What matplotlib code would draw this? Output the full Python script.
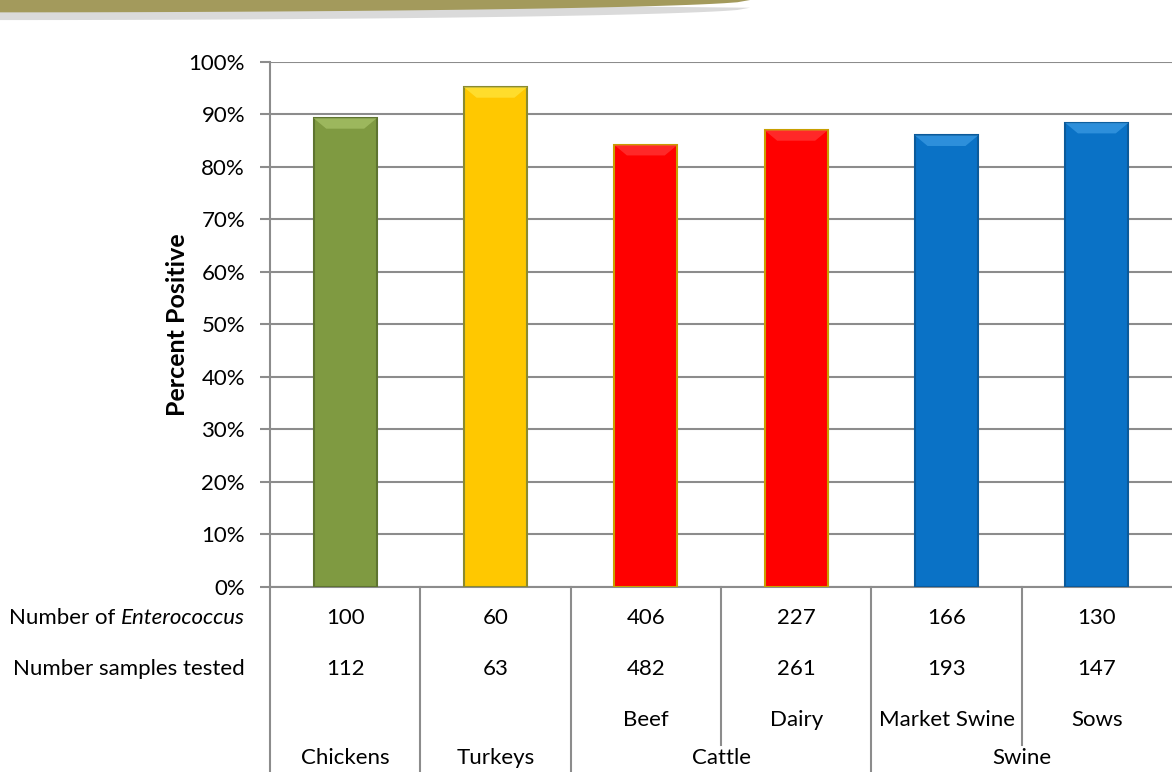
import numpy as np
import matplotlib
matplotlib.use('Agg')
import matplotlib.pyplot as plt
from matplotlib.patches import Polygon
from matplotlib.transforms import blended_transform_factory

plt.rcParams['font.family'] = ['Lato', 'DejaVu Sans']

# data
categories = ['Chickens', 'Turkeys', 'Beef', 'Dairy', 'Market Swine', 'Sows']
percent_positive = [89.3, 95.2, 84.2, 87.0, 86.0, 88.4]
n_enterococcus = [100, 60, 406, 227, 166, 130]
n_tested = [112, 63, 482, 261, 193, 147]
sub_labels = ['', '', 'Beef', 'Dairy', 'Market Swine', 'Sows']
groups = ['Chickens', 'Turkeys', 'Cattle', 'Swine']
group_spans = [(0, 0), (1, 1), (2, 3), (4, 5)]

face_colors = ['#7F9A41', '#FFC800', '#FF0000', '#FF0000', '#0A72C6', '#0A72C6']
edge_colors = ['#5E7430', '#8A8A30', '#C8A000', '#C8A000', '#0B5A9A', '#0B5A9A']
top_colors = ['#A9C46A', '#FFE640', '#FF3A3A', '#FF3A3A', '#3C9CE4', '#3C9CE4']

FS = 16

fig = plt.figure(figsize=(11.72, 7.72), dpi=100)
ax = fig.add_axes([0.2304, 0.2397, 0.7696, 0.6800])

# decorative banner on top
bx = np.linspace(0, 0.64, 60)
by = 1 - 0.016 * np.sqrt(np.clip(1 - (bx / 0.64) ** 2, 0, 1))
shadow = Polygon(np.column_stack([np.r_[bx, 0.0], np.r_[by - 0.010, 1.0]]),
                 closed=True, transform=fig.transFigure, facecolor='#DADADA',
                 edgecolor='none', zorder=0)
fig.patches.append(shadow)
banner = Polygon(np.column_stack([np.r_[bx, 0.0], np.r_[by, 1.0]]),
                 closed=True, transform=fig.transFigure, facecolor='#A39A5C',
                 edgecolor='none', zorder=1)
fig.patches.append(banner)

x = np.arange(len(categories))
width = 0.42
bars = ax.bar(x, percent_positive, width=width, color=face_colors,
              edgecolor=edge_colors, linewidth=1.5, zorder=3)

# bevel on the top of each bar
for b, tc in zip(bars, top_colors):
    x0, w, h = b.get_x(), b.get_width(), b.get_height()
    inset = w * 0.2
    dh = 2.0
    ax.add_patch(Polygon([[x0, h], [x0 + w, h], [x0 + w - inset, h - dh],
                          [x0 + inset, h - dh]], closed=True,
                         facecolor=tc, edgecolor='none', alpha=0.7, zorder=4))

ax.set_xlim(-0.5, len(categories) - 0.5)
ax.set_ylim(0, 100)
ax.set_yticks(np.arange(0, 101, 10))
ax.set_yticklabels([f'{v}%' for v in range(0, 101, 10)], fontsize=FS)
ax.set_xticks([])
ax.yaxis.grid(True, color='#8C8C8C', linewidth=1.5)
ax.set_axisbelow(True)
for s in ['top', 'right']:
    ax.spines[s].set_visible(False)
ax.spines['left'].set_color('#8C8C8C')
ax.spines['left'].set_linewidth(1.5)
ax.spines['bottom'].set_color('#8C8C8C')
ax.spines['bottom'].set_linewidth(1.5)
ax.tick_params(axis='y', length=7, width=1.5, color='#8C8C8C', pad=11)
ax.set_ylabel('Percent Positive', fontsize=18, fontweight='bold')
ax.yaxis.set_label_coords(-0.09, 0.5)

# data table under the axis
tr = blended_transform_factory(ax.transData, ax.transAxes)
row_y = [-0.059, -0.156, -0.253, -0.326]
for i in range(len(categories)):
    ax.text(x[i], row_y[0], str(n_enterococcus[i]), transform=tr, ha='center',
            va='center', fontsize=FS)
    ax.text(x[i], row_y[1], str(n_tested[i]), transform=tr, ha='center',
            va='center', fontsize=FS)
    if sub_labels[i]:
        ax.text(x[i], row_y[2], sub_labels[i], transform=tr, ha='center',
                va='center', fontsize=FS)
for g, (a, b) in zip(groups, group_spans):
    ax.text((a + b) / 2, row_y[3], g, transform=tr, ha='center', va='center',
            fontsize=FS)

full_lines = [-0.5] + [b + 0.5 for a, b in group_spans[:-1]]
part_lines = [a + 0.5 for a, b in group_spans if b > a]
for xv in full_lines:
    ax.plot([xv, xv], [0, -0.352], transform=tr, color='#8C8C8C', lw=1.5,
            clip_on=False)
for xv in part_lines:
    ax.plot([xv, xv], [0, -0.301], transform=tr, color='#8C8C8C', lw=1.5,
            clip_on=False)

lx = 245 / 1172
ital = fig.text(lx, 1 - 618 / 772, 'Enterococcus', ha='right', va='center',
                fontsize=FS, style='italic')
fig.canvas.draw()
iw = ital.get_window_extent().width / fig.bbox.width
fig.text(lx - iw, 1 - 618 / 772, 'Number of ', ha='right', va='center',
         fontsize=FS)
fig.text(lx, 1 - 669 / 772, 'Number samples tested', ha='right', va='center',
         fontsize=FS)

fig.savefig('out.png', dpi=100)
